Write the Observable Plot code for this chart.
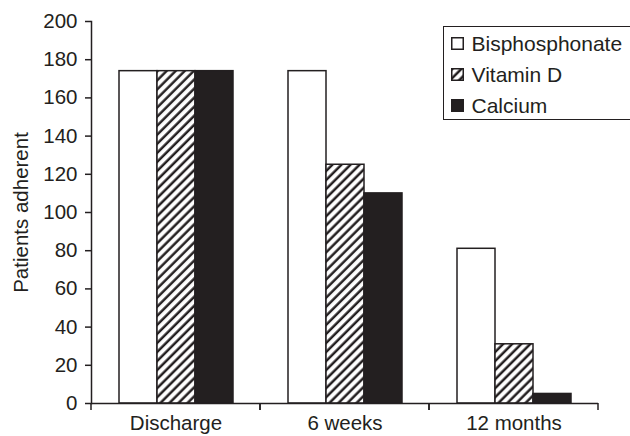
<!DOCTYPE html>
<html>
<head>
<meta charset="utf-8">
<script src="https://cdn.jsdelivr.net/npm/d3@7"></script>
<script src="https://cdn.jsdelivr.net/npm/@observablehq/plot@0.6"></script>
<style>
  html, body { margin: 0; padding: 0; background: white; }
  #wrap { position: relative; width: 630px; height: 436px; overflow: hidden; background: white; font-family: "Liberation Sans", Arial, sans-serif; }
  #legend { position: absolute; left: 443px; top: 26px; width: 220px; height: 94px; border: 1.5px solid #231f20; box-sizing: border-box; background: white; }
  #legend .row { position: absolute; left: 6.5px; display: flex; align-items: center; font-size: 21px; color: #231f20; line-height: 1; white-space: nowrap; }
  #legend svg { margin-right: 8px; }
</style>
</head>
<body>
<div id="wrap"></div>
<script>
const categories = ["Discharge", "6 weeks", "12 months"];
const series = ["Bisphosphonate", "Vitamin D", "Calcium"];
const bisphosphonate = [174, 174, 81];
const vitaminD = [174, 125, 31];
const calcium = [174, 110, 5];
const yTicks = [0, 20, 40, 60, 80, 100, 120, 140, 160, 180, 200];
const fills = ["white", "url(#hatch)", "#231f20"];

const seriesValues = [bisphosphonate, vitaminD, calcium];
const data = [];
categories.forEach((c, i) => series.forEach((s, j) => data.push({time: c, series: s, value: seriesValues[j][i]})));

const ink = "#231f20";

// boundary ticks on the x axis, at the edges of each category band
const boundaryTicks = (index, scales, values, dims) => {
  const g = document.createElementNS("http://www.w3.org/2000/svg", "g");
  const [r0, r1] = scales.x.range();
  const y0 = scales.y(0);
  for (const xx of [r0, r1]) {
    const l = document.createElementNS("http://www.w3.org/2000/svg", "line");
    l.setAttribute("x1", xx); l.setAttribute("x2", xx);
    l.setAttribute("y1", y0); l.setAttribute("y2", y0 + 7);
    l.setAttribute("stroke", ink); l.setAttribute("stroke-width", 1.5);
    g.appendChild(l);
  }
  return g;
};

const chart = Plot.plot({
  width: 630,
  height: 436,
  marginLeft: 91,
  marginRight: 32,
  marginTop: 21,
  marginBottom: 33,
  style: {fontFamily: "'Liberation Sans', Arial, sans-serif", fontSize: "20.5px", color: ink, background: "white", overflow: "visible"},
  fx: {domain: categories, padding: 0, label: null},
  x: {domain: series, paddingInner: 0, paddingOuter: 0.72, axis: null},
  y: {domain: [0, 200], label: null},
  color: {type: "ordinal", domain: series, range: fills},
  marks: [
    Plot.axisFx({anchor: "bottom", tickSize: 0, tickPadding: 12, label: null, fontSize: 20.5}),
    Plot.axisY({ticks: yTicks, tickSize: 6, tickPadding: 8, label: "Patients adherent", labelAnchor: "center", labelArrow: "none", labelOffset: 78, strokeWidth: 1.5, fontSize: 20.5}),
    Plot.barY(data, {fx: "time", x: "series", y: "value", fill: "series", stroke: ink, strokeWidth: 1.5}),
    Plot.frame({anchor: "left", facetAnchor: "left", stroke: ink, strokeWidth: 1.5}),
    Plot.ruleY([0], {stroke: ink, strokeWidth: 1.5}),
    boundaryTicks
  ]
});

// hatch pattern definition
const defs = document.createElementNS("http://www.w3.org/2000/svg", "defs");
defs.innerHTML = '<pattern id="hatch" patternUnits="userSpaceOnUse" width="6.4" height="6.4" patternTransform="rotate(45)"><rect width="6.4" height="6.4" fill="white"/><line x1="1.6" y1="0" x2="1.6" y2="6.4" stroke="#231f20" stroke-width="2.5"/></pattern>';
chart.insertBefore(defs, chart.firstChild);

const wrap = document.getElementById("wrap");
wrap.appendChild(chart);

// legend inside the plot area
const legend = document.createElement("div");
legend.id = "legend";
const rowTops = [6.4, 37.1, 67.8];
series.forEach((s, i) => {
  const row = document.createElement("div");
  row.className = "row";
  row.style.top = rowTops[i] + "px";
  row.innerHTML = `<svg width="13" height="13"><rect x="0.75" y="0.75" width="11.5" height="11.5" fill="${fills[i]}" stroke="${ink}" stroke-width="1.5"/></svg><span>${s}</span>`;
  legend.appendChild(row);
});
const sw = legend.querySelectorAll("svg");
sw[0].insertBefore(defs.cloneNode(true), sw[0].firstChild);
sw[0].querySelector("pattern").setAttribute("id", "hatchL");
legend.querySelectorAll("rect")[2].setAttribute("fill", "url(#hatchL)");
wrap.appendChild(legend);
</script>
</body>
</html>
